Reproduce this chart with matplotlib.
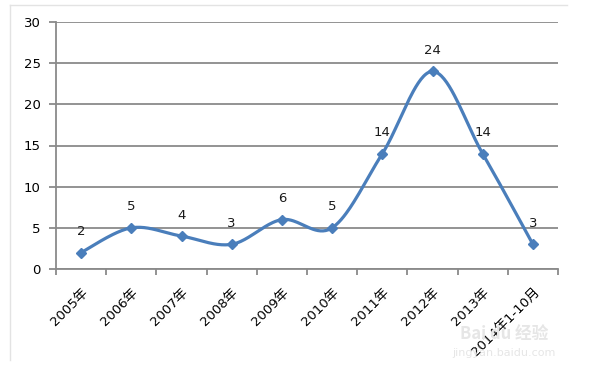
# 2005-2014 年度数量折线图 (Excel 风格平滑曲线)

import numpy as np
import matplotlib
matplotlib.use('Agg')
import matplotlib.pyplot as plt
from matplotlib.lines import Line2D

plt.rcParams['font.family'] = ['DejaVu Sans', 'Noto Sans CJK SC']

categories = ['2005年', '2006年', '2007年', '2008年', '2009年', '2010年',
              '2011年', '2012年', '2013年', '2014年1-10月']
values = [2, 5, 4, 3, 6, 5, 14, 24, 14, 3]

line_color = '#4A7EBB'
grid_color = '#8A8A8A'


def smooth_curve(xs, ys, n=40):
    '''Curva de Bezier tipo Excel (Catmull-Rom) passando pelos pontos.'''
    px = np.concatenate([[xs[0]], xs, [xs[-1]]])
    py = np.concatenate([[ys[0]], ys, [ys[-1]]])
    out_x, out_y = [], []
    t = np.linspace(0, 1, n)
    for i in range(1, len(px) - 2):
        x0, y0 = px[i], py[i]
        x3, y3 = px[i + 1], py[i + 1]
        x1 = x0 + (px[i + 1] - px[i - 1]) / 6
        y1 = y0 + (py[i + 1] - py[i - 1]) / 6
        x2 = x3 - (px[i + 2] - px[i]) / 6
        y2 = y3 - (py[i + 2] - py[i]) / 6
        bx = (1 - t)**3 * x0 + 3 * (1 - t)**2 * t * x1 + 3 * (1 - t) * t**2 * x2 + t**3 * x3
        by = (1 - t)**3 * y0 + 3 * (1 - t)**2 * t * y1 + 3 * (1 - t) * t**2 * y2 + t**3 * y3
        out_x.extend(bx)
        out_y.extend(by)
    return np.array(out_x), np.array(out_y)


fig = plt.figure(figsize=(5.91, 3.74), dpi=100)
W, H = 591, 374
ax = fig.add_axes([56 / W, 1 - 269 / H, (558 - 56) / W, (269 - 22) / H])

x = np.arange(len(values))
sx, sy = smooth_curve(x.astype(float), np.array(values, dtype=float))
ax.plot(sx, sy, color=line_color, lw=2.3, solid_capstyle='round', zorder=3)
ax.plot(x, values, linestyle='none', marker='D', markersize=5.5,
        color=line_color, zorder=4)

for xi, v in zip(x, values):
    ax.annotate(str(v), (xi, v), xytext=(0, 15), textcoords='offset points',
                ha='center', va='center', fontsize=9.5, color='#1a1a1a')

ax.set_xlim(-0.5, len(values) - 0.5)
ax.set_ylim(0, 30)
ax.set_yticks(range(0, 31, 5))
ax.yaxis.grid(True, color=grid_color, lw=1.3)
ax.set_axisbelow(True)

ax.set_xticks(x)
ax.set_xticklabels(categories, rotation=45, ha='right', rotation_mode='anchor',
                   fontsize=9.5, family=['DejaVu Sans', 'Noto Sans CJK SC'])
ax.tick_params(axis='x', which='major', length=0, pad=12)
ax.set_xticks(np.arange(-0.5, len(values)), minor=True)
ax.tick_params(axis='x', which='minor', length=4, color=grid_color, width=1.3)
ax.tick_params(axis='y', length=5, color=grid_color, width=1.3, labelsize=9.5, pad=6)

for side in ['top', 'right']:
    ax.spines[side].set_visible(False)
ax.spines['left'].set_color(grid_color)
ax.spines['bottom'].set_color(grid_color)
ax.spines['left'].set_linewidth(1.3)
ax.spines['bottom'].set_linewidth(1.3)

# moldura do grafico (so topo e esquerda visiveis)
fig.add_artist(Line2D([10 / W, 567 / W], [1 - 5 / H, 1 - 5 / H], color='#e3e3e3', lw=1))
fig.add_artist(Line2D([10 / W, 10 / W], [1 - 5 / H, 1 - 360 / H], color='#e3e3e3', lw=1))

# marca d'agua
fig.text(504 / W, 1 - 334 / H, 'Bai du 经验', ha='center', va='center', fontsize=12,
         color='#e6e6e6', family=['Noto Sans CJK SC', 'DejaVu Sans'], weight='bold')
fig.text(504 / W, 1 - 353 / H, 'jingyan.baidu.com', ha='center', va='center', fontsize=8,
         color='#e6e6e6')

fig.savefig('out.png', dpi=100)
